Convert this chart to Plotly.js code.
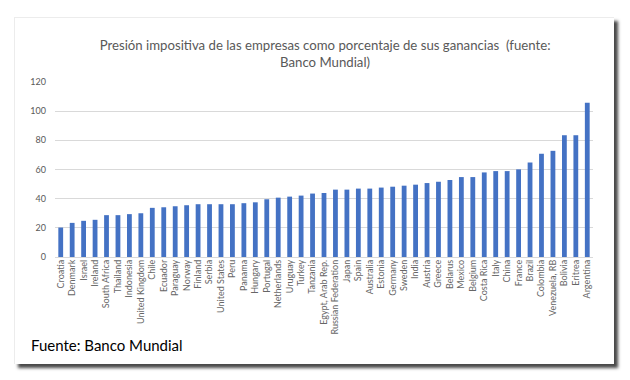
<!DOCTYPE html>
<html>
<head>
<meta charset="utf-8">
<script src="https://cdn.plot.ly/plotly-3.0.1.min.js"></script>
<style>
  html, body { margin: 0; padding: 0; background: #ffffff; }
  #card { position: absolute; left: 14px; top: 17px; width: 599px; height: 346px;
          background: #ffffff; border-left: 1px solid #ececec; border-top: 1px solid #ececec;
          box-shadow: 4px 4px 3px #4a4a4a; }
  #chart { position: absolute; left: 0; top: 0; width: 630px; height: 380px; }
</style>
</head>
<body>
<div id="card"></div>
<div id="chart"></div>
<script>
const countries = ["Croatia","Denmark","Israel","Ireland","South Africa","Thailand","Indonesia","United Kingdom","Chile","Ecuador","Paraguay","Norway","Finland","Serbia","United States","Peru","Panama","Hungary","Portugal","Netherlands","Uruguay","Turkey","Tanzania","Egypt, Arab Rep.","Russian Federation","Japan","Spain","Australia","Estonia","Germany","Sweden","India","Austria","Greece","Belarus","Mexico","Belgium","Costa Rica","Italy","China","France","Brazil","Colombia","Venezuela, RB","Bolivia","Eritrea","Argentina"];
const taxRate = [20.2,23.4,24.8,25.5,28.7,28.7,29.4,30.0,33.7,34.1,34.8,35.5,36.2,36.2,36.2,36.2,36.9,37.5,39.6,40.7,41.4,42.1,43.5,43.9,46.2,46.2,46.9,46.9,47.6,48.2,48.9,49.6,50.7,51.6,52.8,54.8,54.8,58.0,58.9,58.9,60.1,64.8,70.8,72.8,83.5,83.5,105.8];
const yTicks = [0,20,40,60,80,100,120];
const titleText = "Presión impositiva de las empresas como porcentaje de sus ganancias  (fuente:<br>Banco Mundial)";
const sourceText = "Fuente: Banco Mundial";

const FONT = "Lato, 'Open Sans', sans-serif";

Plotly.newPlot("chart", [{
  type: "bar",
  x: countries,
  y: taxRate,
  marker: { color: "#4472c4", line: { width: 0 } },
  width: 0.42,
  hoverinfo: "x+y"
}], {
  width: 630, height: 380,
  paper_bgcolor: "rgba(0,0,0,0)",
  plot_bgcolor: "rgba(0,0,0,0)",
  margin: { l: 55, r: 37, t: 81.5, b: 123, pad: 0 },
  title: { text: titleText, x: 0.516, xanchor: "center", y: 0.868, yanchor: "top",
           font: { family: FONT, size: 13.2, color: "#595959" } },
  showlegend: false,
  xaxis: {
    type: "category",
    tickangle: -90,
    tickfont: { family: FONT, size: 9, color: "#666666" },
    showgrid: false, showline: false, ticks: "", ticklen: 0,
    automargin: false
  },
  yaxis: {
    range: [0, 120],
    tickvals: yTicks,
    ticktext: yTicks.map(String),
    tickfont: { family: FONT, size: 9, color: "#595959" },
    showgrid: true, gridcolor: "#d9d9d9", gridwidth: 1,
    zeroline: true, zerolinecolor: "#d9d9d9", zerolinewidth: 1,
    showline: false, ticks: "", ticklabelstandoff: 8,
    automargin: false
  },
  annotations: [{
    text: sourceText, xref: "paper", yref: "paper",
    x: -0.048, y: -0.5, xanchor: "left", yanchor: "middle",
    showarrow: false, font: { family: FONT, size: 15, color: "#000000" }
  }]
}, { displayModeBar: false, staticPlot: true });
</script>
</body>
</html>
